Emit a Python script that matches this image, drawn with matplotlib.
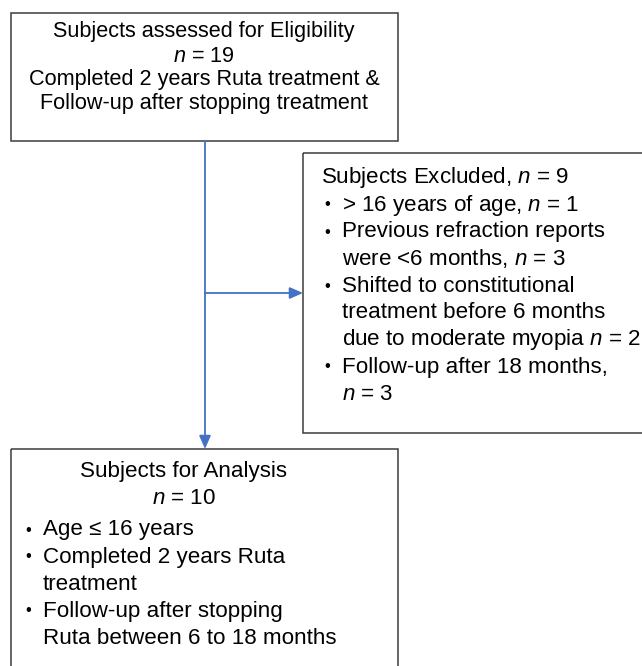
import matplotlib.pyplot as plt
from matplotlib.patches import Rectangle

plt.rcParams['font.family'] = ['Liberation Sans', 'DejaVu Sans']
plt.rcParams['mathtext.fontset'] = 'custom'
plt.rcParams['mathtext.rm'] = 'Liberation Sans'
plt.rcParams['mathtext.it'] = 'Liberation Sans:italic'

# text of the three boxes
top_lines = [
    "Subjects assessed for Eligibility",
    r"$\mathit{n}$ = 19",
    "Completed 2 years Ruta treatment &",
    "Follow-up after stopping treatment",
]
excluded_title = r"Subjects Excluded, $\mathit{n}$ = 9"
excluded_items = [
    [r"> 16 years of age, $\mathit{n}$ = 1"],
    ["Previous refraction reports", r"were <6 months, $\mathit{n}$ = 3"],
    ["Shifted to constitutional", "treatment before 6 months", r"due to moderate myopia $\mathit{n}$ = 2"],
    ["Follow-up after 18 months,", r"$\mathit{n}$ = 3"],
]
analysis_title = ["Subjects for Analysis", r"$\mathit{n}$ = 10"]
analysis_items = [
    ["Age ≤ 16 years"],
    ["Completed 2 years Ruta", "treatment"],
    ["Follow-up after stopping", "Ruta between 6 to 18 months"],
]

box_edge = '#3c3c3c'
arrow_col = '#4472c4'

fig = plt.figure(figsize=(6.42, 6.66), dpi=100)
ax = fig.add_axes([0, 0, 1, 1])
ax.set_xlim(0, 642)
ax.set_ylim(666, 0)
ax.axis('off')

# boxes
ax.add_patch(Rectangle((11, 13), 387, 128, fill=False, ec=box_edge, lw=1.1))
ax.add_patch(Rectangle((303, 153), 360, 280, fill=False, ec=box_edge, lw=1.1))
ax.add_patch(Rectangle((11, 449), 387, 240, fill=False, ec=box_edge, lw=1.1))

# connectors
ax.annotate('', xy=(205, 449), xytext=(205, 141),
            arrowprops=dict(arrowstyle='-|>,head_length=0.8,head_width=0.35', color=arrow_col, lw=1.3, shrinkA=0, shrinkB=0))
ax.annotate('', xy=(303, 293), xytext=(205, 293),
            arrowprops=dict(arrowstyle='-|>,head_length=0.8,head_width=0.35', color=arrow_col, lw=1.3, shrinkA=0, shrinkB=0))

# top box text
fs_top = 15.6
y = 32
for line in top_lines:
    ax.text(204, y, line, ha='center', va='center', fontsize=fs_top)
    y += 24

# excluded box text
fs = 16.1
fs_bullet = 12
step = 27
y = 178
ax.text(321, y, excluded_title, ha='left', va='center', fontsize=fs)
for item in excluded_items:
    y += step
    ax.text(324, y, '•', ha='left', va='center', fontsize=fs_bullet)
    for i, line in enumerate(item):
        if i > 0:
            y += step
        ax.text(342, y, line, ha='left', va='center', fontsize=fs)

# analysis box text
y = 472
for line in analysis_title:
    ax.text(184, y, line, ha='center', va='center', fontsize=fs)
    y += step
y += 4
for item in analysis_items:
    ax.text(25, y, '•', ha='left', va='center', fontsize=fs_bullet)
    for line in item:
        ax.text(43, y, line, ha='left', va='center', fontsize=fs)
        y += step

fig.savefig('out.png', dpi=100)
